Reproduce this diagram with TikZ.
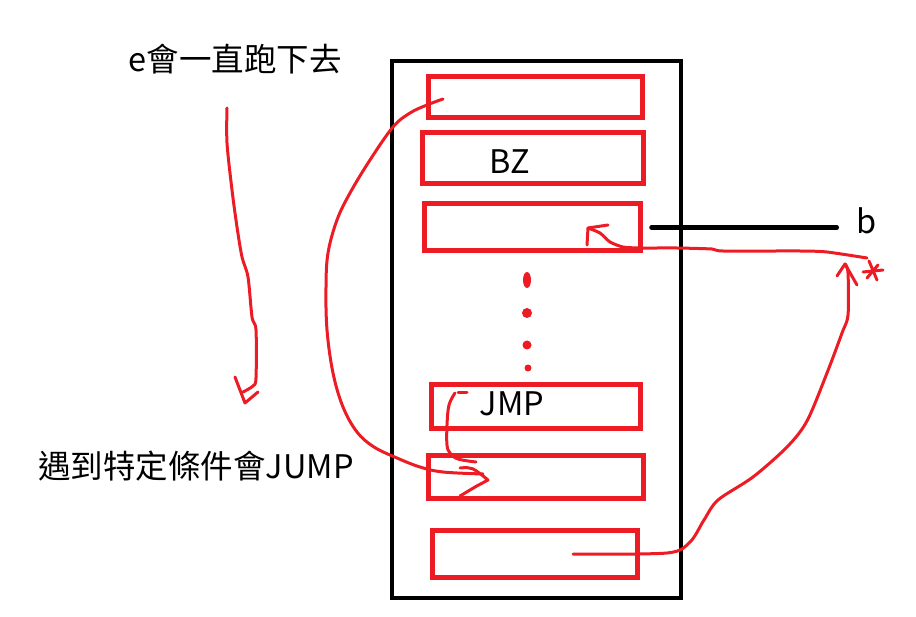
\documentclass[tikz,border=0pt]{standalone}
\usepackage{fontspec}
\setmainfont{Noto Sans CJK TC}
\definecolor{pred}{RGB}{237,28,36}
\begin{document}
\begin{tikzpicture}[x=1pt,y=-1pt,
  rbox/.style={draw=pred, line width=5pt, inner sep=0pt},
  obox/.style={draw=black, line width=4.5pt, inner sep=0pt},
  hand/.style={draw=pred, line width=3pt, line cap=round, line join=round},
  txt/.style={font=\fontsize{32.5}{38}\selectfont, inner sep=0pt},
  dotr/.style={fill=pred, draw=none}]
\useasboundingbox (0,0) rectangle (916,617);
% outer memory block
\node[obox, minimum width=289pt, minimum height=537pt] (mem) at (536.5,329.5) {};
% red cells
\node[rbox, minimum width=214pt, minimum height=41pt] (b1) at (535,97.5) {};
\node[rbox, minimum width=221pt, minimum height=51pt] (b2) at (532.5,158.5) {};
\node[rbox, minimum width=216pt, minimum height=47pt] (b3) at (532,227.5) {};
\node[rbox, minimum width=209pt, minimum height=44pt] (b4) at (535.5,407) {};
\node[rbox, minimum width=215pt, minimum height=42pt] (b5) at (535.5,477) {};
\node[rbox, minimum width=205pt, minimum height=47pt] (b6) at (534.5,553.5) {};
% texts
\node[txt] (bz) at (510,162) {BZ};
\node[txt] (jmp) at (512,404) {JMP};
\node[txt] (bl) at (867,221) {b};
\node[txt] (t1) at (235,59) {e會一直跑下去};
\node[txt] (t2) at (196,466) {遇到特定條件會JUMP};
% dots
\fill[dotr] (527,280) ellipse (4pt and 8pt);
\fill[dotr] (527,313) circle (5pt);
\fill[dotr] (527,345) circle (4.5pt);
\fill[dotr] (528,368) circle (3.5pt);
% black pointer line to b
\draw[line width=4.5pt, line cap=round] ([xshift=9pt]b3.east) -- ([xshift=-20pt]bl.west |- b3.east);
% named endpoints
\coordinate (eTop) at (227,108);
\coordinate (eEnd) at (243,392);
\coordinate (eTip) at (245,403);
\coordinate (aStart) at (443,99);
\coordinate (aEnd) at (483,474);
\coordinate (aTip) at (488,480);
\coordinate (sStart) at (455,393);
\coordinate (sEnd) at (476,462);
\coordinate (rStart) at (573,554);
\coordinate (rTip) at (845,264);
\coordinate (star) at (873,271);
\coordinate (bStart) at (867,258);
\coordinate (bTip) at (588,228);
% left "runs down" arrow
\draw[hand] plot[smooth, tension=0.5] coordinates {(eTop) (227,143) (232,190) (237,227) (242,257) (248,277) (252,317) (256,330) (256,378) (253,386) (eEnd)};
\draw[hand] (235,377) -- (eTip) -- (258,392);
% big jump arc from b1 to b5
\draw[hand] plot[smooth, tension=0.6] coordinates {(aStart) (427,105) (410,113) (393,127) (370,160) (350,193) (337,220) (328,253) (326,287) (327,330) (333,373) (343,407) (357,432) (374,447) (397,458) (420,467) (443,472) (aEnd)};
\draw[hand] (460,468) .. controls (472,467) .. (aTip) -- (475,487) -- (460,496);
% small arc from JMP to b5
\draw[hand] (458,393) -- (467,393);
\draw[hand] plot[smooth, tension=0.6] coordinates {(sStart) (449,405) (447,425) (447,445) (450,453) (458,459) (sEnd)};
% arc from b6 up to star
\draw[hand] plot[smooth, tension=0.5] coordinates {(rStart) (667,553) (690,542) (704,520) (718,500) (753,477) (787,447) (807,421) (827,373) (842,333) (848,315) (848,273) (rTip)};
\draw[hand] (837,276) -- (rTip) -- (857,285);
% star
\draw[hand] ([shift={(-4,-10)}]star) -- ([shift={(4,9)}]star);
\draw[hand] ([shift={(-10,1)}]star) -- ([shift={(10,-1)}]star);
\draw[hand] ([shift={(-6,7)}]star) -- ([shift={(5,-6)}]star);
% line from star back to b3
\draw[hand] plot[smooth, tension=0.4] coordinates {(bStart) (827,252) (800,251) (723,251) (712,249) (677,248) (640,248) (623,247) (610,242) (600,233) (bTip)};
\draw[hand] (608,225) -- (bTip) -- (587,245);
\end{tikzpicture}
\end{document}
